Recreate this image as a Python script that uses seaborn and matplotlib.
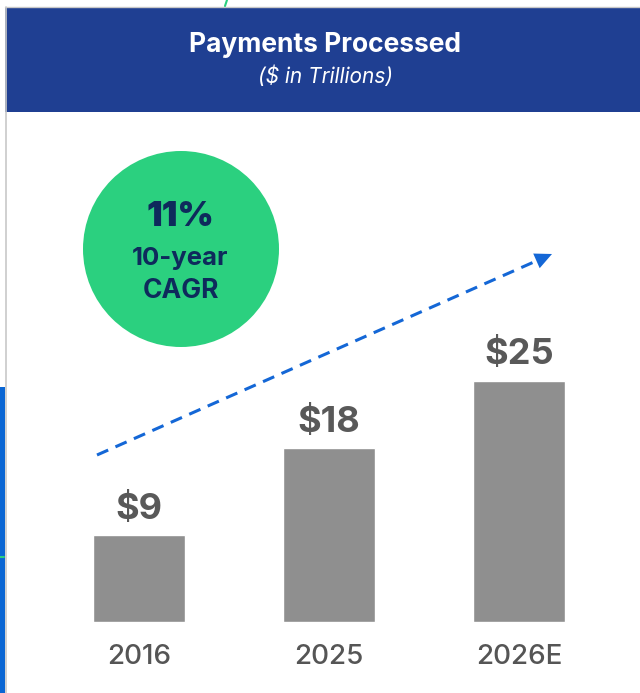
import numpy as np
import pandas as pd
import matplotlib.pyplot as plt
import seaborn as sns
from matplotlib.patches import Rectangle, Circle, Polygon

# ------------------------------------------------------------
# Data
# ------------------------------------------------------------
years = ["2016", "2025", "2026E"]
payments = [9, 18, 25]  # $ in trillions
value_labels = ["$9", "$18", "$25"]
cagr_value = "11%"
cagr_lines = ["10-year", "CAGR"]
title = "Payments Processed"
subtitle = "($ in Trillions)"

# ------------------------------------------------------------
# Style
# ------------------------------------------------------------
sns.set_theme(style="white")
plt.rcParams['font.family'] = ['Inter', 'DejaVu Sans']

W, H = 640, 693
fig = plt.figure(figsize=(W / 100, H / 100), dpi=100)
fig.patch.set_facecolor("white")

# decoration layer in pixel coordinates (y down)
deco = fig.add_axes([0, 0, 1, 1], zorder=0)
deco.set_xlim(0, W)
deco.set_ylim(H, 0)
deco.axis("off")

# bar chart
ax = fig.add_axes([44 / W, 71 / H, 570 / W, 386 / H], zorder=1)
ax.patch.set_alpha(0)
df = pd.DataFrame({"year": years, "payments": payments})
sns.barplot(data=df, x="year", y="payments", color="#8f8f8f",
            saturation=1, width=0.484, ax=ax)
ax.set_xlim(-0.5, 2.5)
ax.set_ylim(0, 40)
ax.set_xlabel("")
ax.set_ylabel("")
ax.set_yticks([])
ax.tick_params(axis="x", length=0, pad=16, labelsize=20, labelcolor="#555555")
for t in ax.get_xticklabels():
    t.set_fontweight("medium")
sns.despine(ax=ax, left=True, bottom=True)

for i, (v, lab) in enumerate(zip(payments, value_labels)):
    ax.text(i, v + 2.7, lab, ha="center", va="center", fontsize=26,
            fontweight="bold", color="#595959")

# ------------------------------------------------------------
# Header band, borders
# ------------------------------------------------------------
deco.add_patch(Rectangle((5, 7), W - 5, 105, facecolor="#1f3f92", edgecolor="none"))
deco.plot([5.5, 5.5], [7, H], color="#c8c8c8", lw=1.2)
deco.plot([5, W], [7, 7], color="#c8c8c8", lw=1)
deco.add_patch(Rectangle((0, 387), 4.5, H - 387, facecolor="#0a66d4", edgecolor="none"))
deco.plot([0, 4], [557, 557], color="#2ad07f", lw=1.5)
deco.plot([225, 227], [6, 0], color="#2ad07f", lw=1.5)

deco.text(325, 45, title, ha="center", va="center", fontsize=19,
          fontweight="bold", color="white")
deco.text(325, 76, subtitle, ha="center", va="center", fontsize=15,
          fontstyle="italic", color="white")

# ------------------------------------------------------------
# CAGR badge
# ------------------------------------------------------------
deco.add_patch(Circle((181, 249), 98, facecolor="#2bd07f", edgecolor="none"))
deco.text(180, 217, cagr_value, ha="center", va="center", fontsize=25,
          fontweight="black", color="#0e2a5c")
deco.text(180, 259, cagr_lines[0], ha="center", va="center", fontsize=18.5,
          fontweight="bold", color="#0e2a5c")
deco.text(181, 291, cagr_lines[1], ha="center", va="center", fontsize=19,
          fontweight="bold", color="#0e2a5c")

# ------------------------------------------------------------
# Growth arrow
# ------------------------------------------------------------
start = np.array([97.0, 455.0])
tip = np.array([552.0, 254.0])
u = (tip - start) / np.linalg.norm(tip - start)
n = np.array([-u[1], u[0]])
base = tip - 17 * u
deco.plot([start[0], base[0]], [start[1], base[1]], color="#1467d6", lw=2.2,
          dashes=(4, 2.6), solid_capstyle="butt")
deco.add_patch(Polygon([tip, base + 8 * n, base - 8 * n], closed=True,
                       facecolor="#1467d6", edgecolor="none"))

fig.savefig("out.png", dpi=100)
